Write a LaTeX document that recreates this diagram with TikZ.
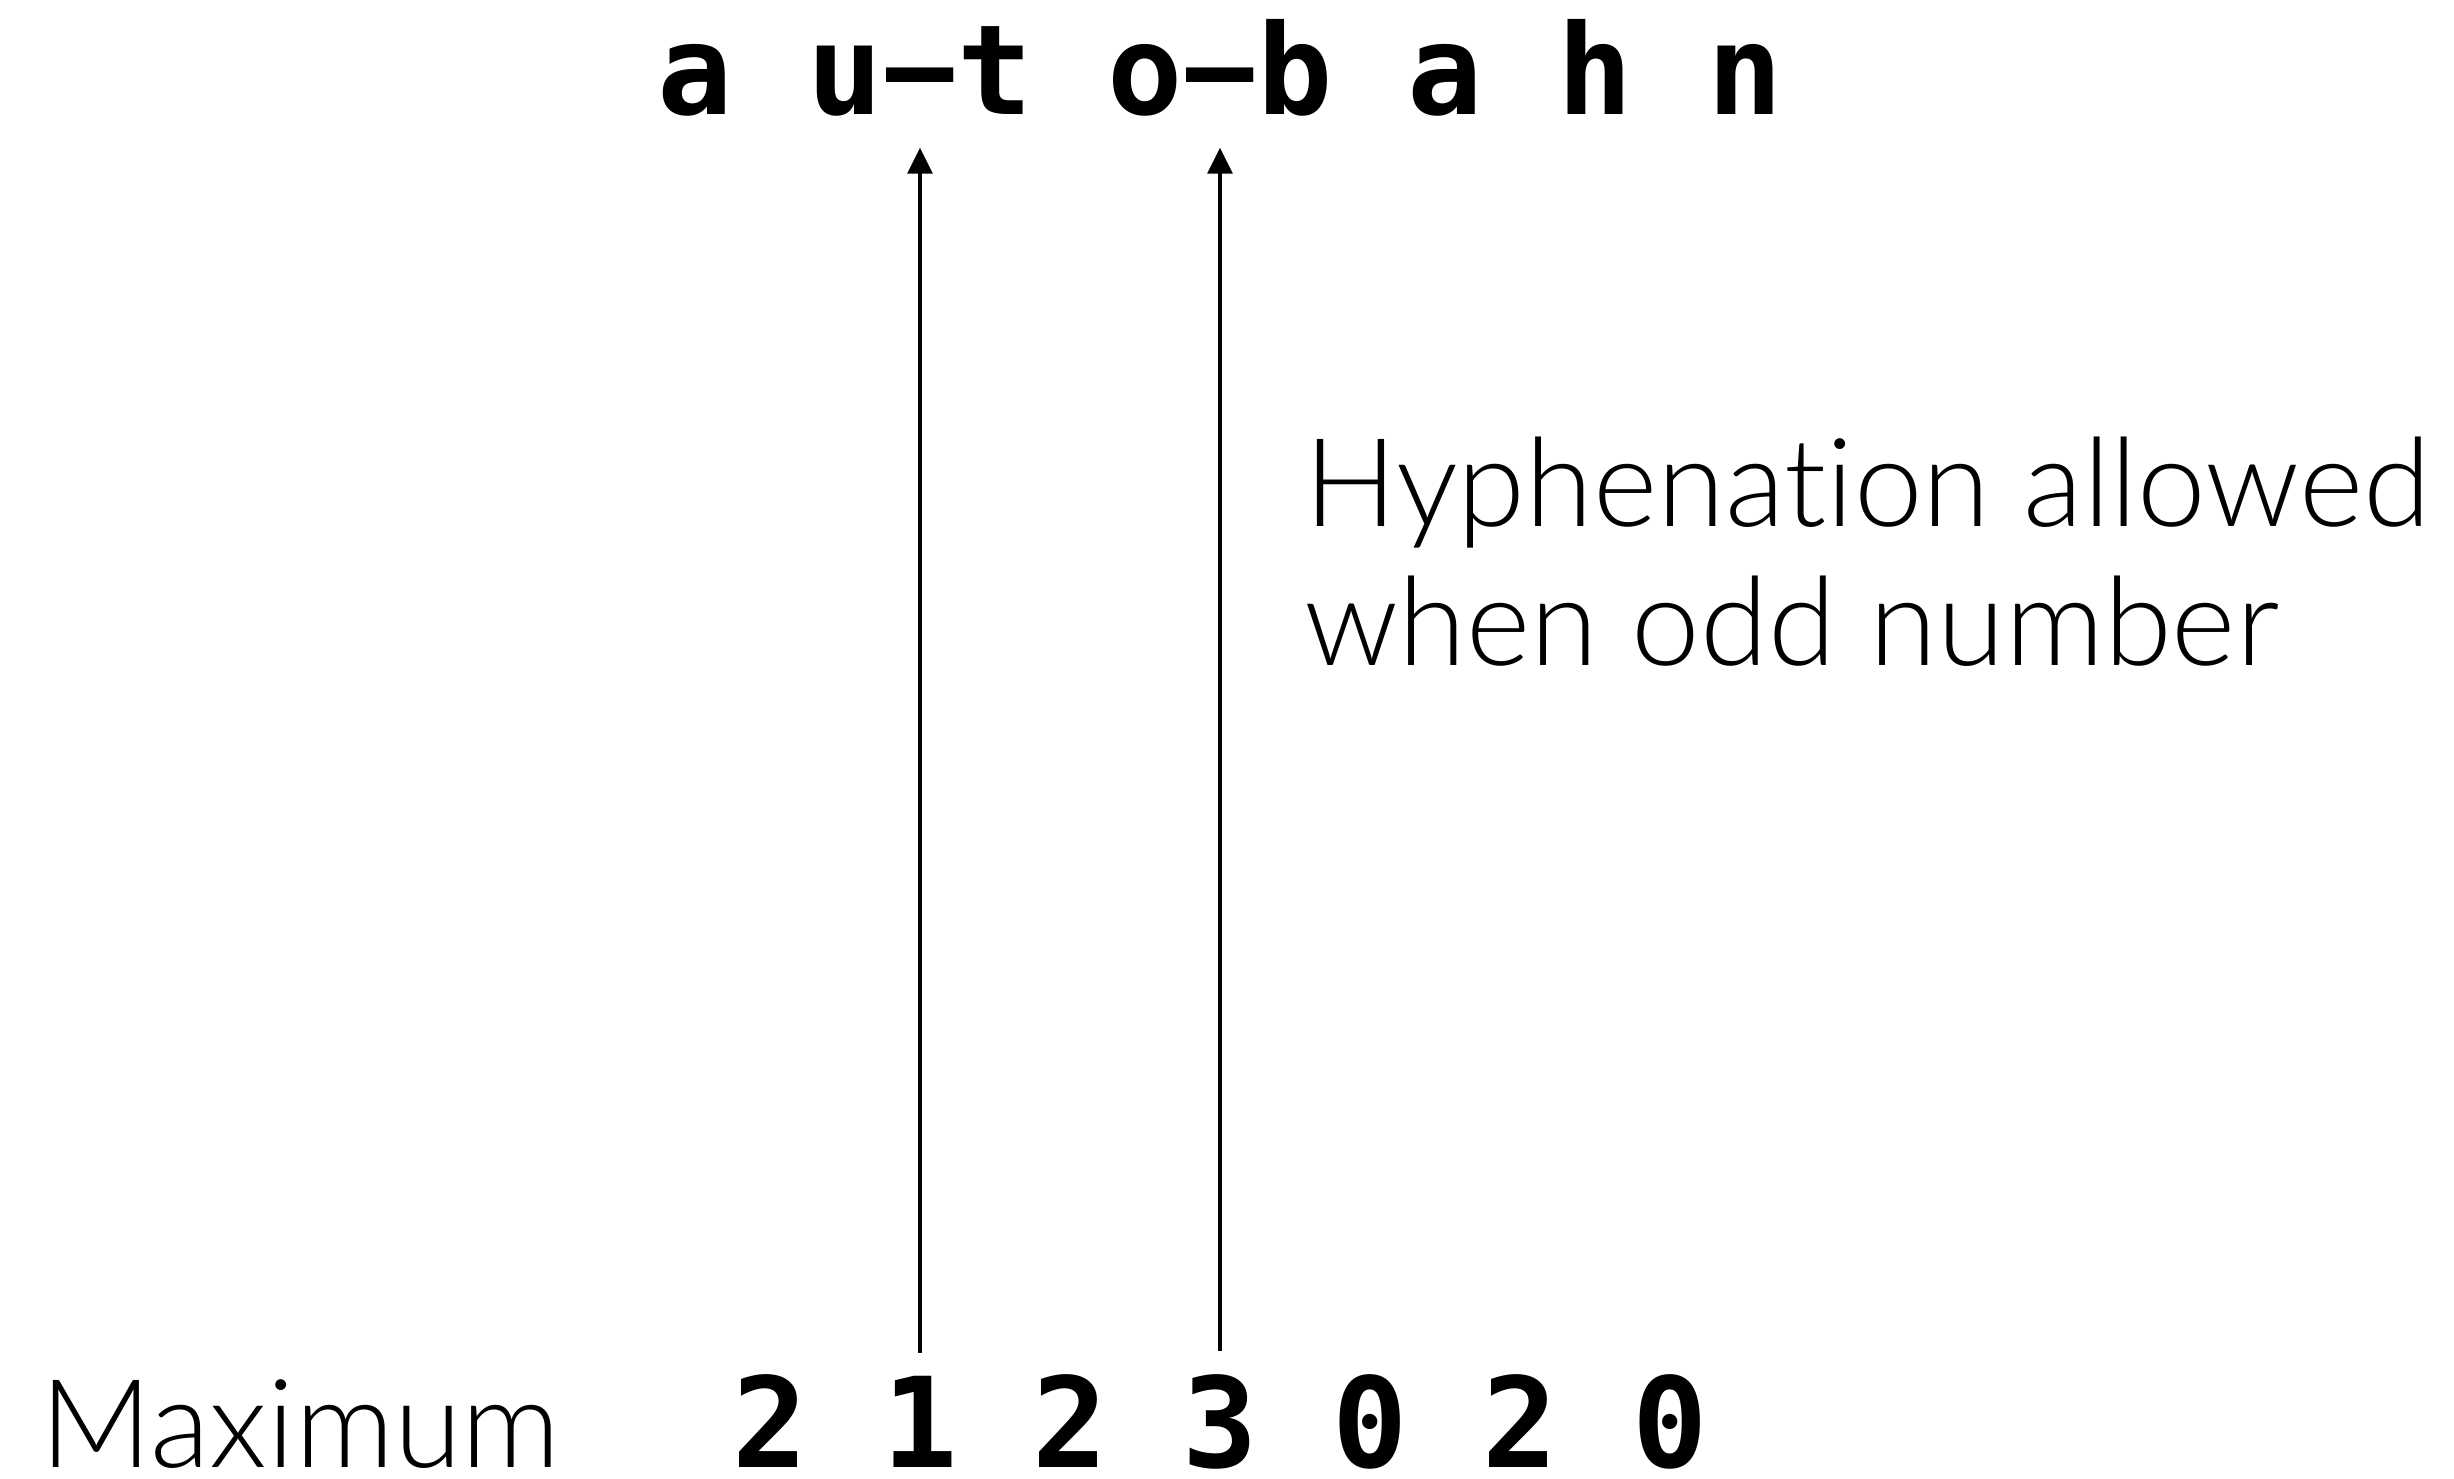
\documentclass[tikz,border=0pt]{standalone}
\usepackage{fontspec}
\newfontfamily\monof{DejaVu Sans Mono}
\newfontfamily\lightf{Lato Light}[Ligatures=NoCommon]
\usetikzlibrary{arrows.meta}
\begin{document}
\begin{tikzpicture}[x=0.01cm,y=-0.01cm,
  mono/.style={font=\monof\bfseries\fontsize{35.6pt}{40pt}\selectfont, inner sep=0pt, anchor=base},
  lbl/.style={font=\lightf\fontsize{35pt}{39.3pt}\selectfont, inner sep=0pt, anchor=base west, align=left},
  arr/.style={-{Triangle[length=0.26cm,width=0.25cm]}, line width=0.033cm}]
\useasboundingbox (0,0) rectangle (2454,1478);
\foreach \c/\i in {a/0,u/2,−/3,t/4,o/6,−/7,b/8,a/10,h/12,n/14}
  \node[mono] (t\i) at (695+75*\i,114) {\c};
\foreach \d/\i in {2/1,1/3,2/5,3/7,0/9,2/11,0/13}
  \node[mono] (b\i) at (695+75*\i,1467) {\d};
\draw[arr, shorten <=0.22cm, shorten >=0.33cm] (b3.north) -- (t3.south);
\draw[arr, shorten <=0.22cm, shorten >=0.33cm] (b7.north) -- (t7.south);
\node[lbl] (note) at (1304,665) {Hyphenation allowed\\when odd number};
\node[lbl] (maxl) at (40,1467) {Maximum};
\end{tikzpicture}
\end{document}
